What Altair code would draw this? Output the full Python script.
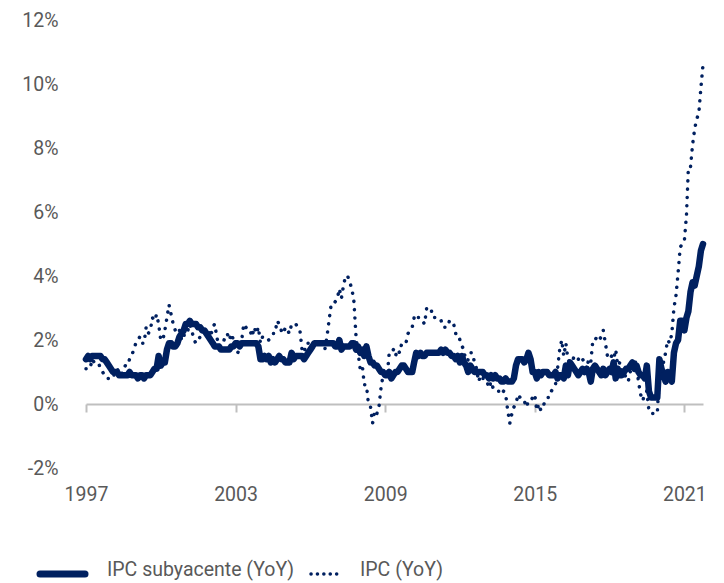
import altair as alt
import pandas as pd

# Core (subyacente) YoY %, monthly
core = [
    1.4, 1.5, 1.4, 1.5, 1.5, 1.5, 1.5, 1.5, 1.4, 1.4, 1.3, 1.2,
    1.1, 1.0, 1.0, 1.0, 0.9, 0.9, 0.9, 0.9, 0.9, 1.0, 0.9, 0.9,
    0.9, 0.8, 0.9, 0.9, 0.8, 0.9, 0.9, 0.9, 1.0, 1.1, 1.1, 1.5,
    1.2, 1.3, 1.3, 1.7, 1.9, 1.9, 1.8, 1.8, 1.9, 2.1, 2.2, 2.3,
    2.5, 2.5, 2.6, 2.5, 2.5, 2.5, 2.4, 2.4, 2.3, 2.3, 2.2, 2.1,
    2.0, 1.9, 1.8, 1.8, 1.8, 1.7, 1.7, 1.7, 1.7, 1.7, 1.8, 1.8,
    1.9, 1.9, 1.8, 1.9, 1.9, 1.9, 1.9, 1.9, 1.9, 1.9, 1.9, 1.8,
    1.4, 1.4, 1.5, 1.4, 1.5, 1.3, 1.4, 1.3, 1.4, 1.5, 1.4, 1.4,
    1.3, 1.3, 1.3, 1.6, 1.4, 1.5, 1.5, 1.5, 1.5, 1.4, 1.5, 1.6,
    1.7, 1.8, 1.9, 1.9, 1.9, 1.9, 1.9, 1.9, 1.9, 1.9, 1.9, 1.9,
    1.8, 1.8, 2.0, 1.7, 1.8, 1.8, 1.8, 1.8, 1.9, 1.9, 1.7, 1.8,
    1.6, 1.7, 1.5, 1.8, 1.5, 1.3, 1.3, 1.2, 1.2, 1.1, 1.0, 1.0,
    0.9, 0.9, 1.0, 0.8, 0.9, 1.0, 1.0, 1.1, 1.2, 1.2, 1.1, 1.0,
    1.0, 1.0, 1.3, 1.6, 1.5, 1.6, 1.5, 1.5, 1.6, 1.6, 1.6, 1.6,
    1.6, 1.6, 1.6, 1.7, 1.6, 1.7, 1.6, 1.6, 1.5, 1.5, 1.4, 1.5,
    1.3, 1.5, 1.3, 1.2, 1.0, 1.2, 1.1, 1.0, 1.0, 1.0, 1.0, 1.0,
    0.9, 0.9, 0.8, 0.9, 0.8, 0.9, 0.8, 0.8, 0.7, 0.7, 0.8, 0.7,
    0.7, 0.7, 0.8, 1.2, 1.4, 1.4, 1.4, 1.3, 1.4, 1.6, 1.4, 1.0,
    1.0, 0.8, 1.0, 0.9, 1.0, 1.0, 1.0, 0.9, 0.9, 0.9, 1.0, 0.8,
    0.9, 0.9, 0.8, 1.2, 0.9, 1.3, 1.2, 1.1, 1.0, 0.9, 1.0, 1.1,
    1.0, 1.1, 1.0, 0.7, 1.1, 1.2, 1.1, 1.0, 0.9, 1.1, 0.9, 1.0,
    1.1, 1.0, 1.3, 0.8, 1.1, 0.9, 0.9, 1.0, 1.1, 1.1, 1.2, 1.3,
    1.1, 1.2, 1.0, 0.9, 0.9, 0.8, 1.2, 0.4, 0.2, 0.2, 0.2, 0.2,
    1.4, 1.1, 0.9, 0.7, 1.0, 0.9, 0.7, 1.6, 1.9, 2.0, 2.6, 2.6,
    2.3, 2.7, 2.9, 3.5, 3.8, 3.7, 4.0, 4.3, 4.8, 5.0,
]

# Headline (IPC) YoY %, monthly
headline = [
    1.1, 1.1, 1.1, 1.4, 1.3, 1.3, 1.3, 1.1, 1.0, 0.9, 0.8, 0.8,
    0.8, 0.8, 1.0, 1.1, 1.0, 0.9, 1.1, 1.2, 1.2, 1.4, 1.5, 1.7,
    1.9, 2.0, 2.1, 1.9, 1.9, 2.4, 2.2, 2.3, 2.7, 2.6, 2.8, 2.5,
    2.0, 2.0, 2.3, 2.7, 3.1, 2.8, 2.5, 2.3, 2.2, 2.3, 2.0, 2.0,
    2.6, 2.3, 2.5, 2.3, 2.0, 1.9, 2.0, 2.1, 2.1, 2.3, 2.3, 2.3,
    2.1, 2.4, 2.5, 2.1, 1.8, 1.9, 1.9, 2.1, 2.2, 2.0, 2.2, 2.0,
    1.9, 1.6, 1.7, 2.0, 2.5, 2.4, 2.3, 2.3, 2.1, 2.4, 2.2, 2.4,
    1.9, 2.1, 2.1, 2.1, 2.0, 2.1, 2.2, 2.2, 2.6, 2.5, 2.3, 2.2,
    2.4, 2.3, 2.2, 2.5, 2.5, 2.5, 2.4, 2.3, 1.7, 1.6, 1.9, 1.9,
    1.8, 1.8, 1.9, 1.9, 1.9, 1.9, 1.8, 1.7, 2.1, 2.6, 3.1, 3.1,
    3.2, 3.3, 3.6, 3.3, 3.7, 4.0, 4.0, 3.8, 3.6, 3.2, 2.1, 1.6,
    1.1, 1.2, 0.6, 0.6, 0.0, -0.1, -0.6, -0.2, -0.3, -0.1, 0.5, 0.9,
    1.0, 0.9, 1.6, 1.6, 1.7, 1.5, 1.7, 1.6, 1.9, 1.9, 1.9, 2.2,
    2.3, 2.4, 2.7, 2.8, 2.7, 2.7, 2.6, 2.5, 3.0, 3.0, 3.0, 2.7,
    2.7, 2.7, 2.7, 2.6, 2.4, 2.4, 2.4, 2.6, 2.6, 2.5, 2.2, 2.2,
    2.0, 1.8, 1.7, 1.2, 1.4, 1.6, 1.6, 1.3, 1.1, 0.7, 0.9, 0.8,
    0.8, 0.7, 0.5, 0.7, 0.5, 0.5, 0.4, 0.4, 0.3, 0.4, 0.3, -0.2,
    -0.6, -0.3, -0.1, 0.0, 0.3, 0.2, 0.2, 0.1, -0.1, 0.1, 0.1, 0.2,
    0.3, -0.2, 0.0, -0.2, -0.1, 0.1, 0.2, 0.2, 0.4, 0.5, 0.6, 1.1,
    1.7, 2.0, 1.5, 1.9, 1.4, 1.3, 1.3, 1.5, 1.5, 1.4, 1.5, 1.4,
    1.3, 1.1, 1.4, 1.3, 2.0, 2.0, 2.1, 2.0, 2.1, 2.3, 1.9, 1.5,
    1.4, 1.5, 1.4, 1.7, 1.2, 1.3, 1.0, 1.0, 0.8, 0.7, 1.0, 1.3,
    1.4, 1.2, 0.7, 0.3, 0.1, 0.3, 0.4, -0.2, -0.3, -0.3, -0.3, -0.3,
    0.9, 0.9, 1.3, 1.6, 2.0, 1.9, 2.2, 3.0, 3.4, 4.1, 4.9, 5.0,
    5.1, 5.9, 7.4, 7.4, 8.1, 8.6, 8.9, 9.1, 9.9, 10.6,
]

series_names = ["IPC subyacente (YoY)", "IPC (YoY)"]
x_tick_years = ["1997", "2003", "2009", "2015", "2021"]
y_ticks = [-2, 0, 2, 4, 6, 8, 10, 12]

dates = pd.date_range("1997-01-01", periods=len(core), freq="MS")
df = pd.DataFrame({"date": dates, "core": core, "headline": headline})
legend_df = pd.DataFrame({"label": series_names})

NAVY = "#002060"
GREY_TXT = "#595959"
FONT = "Roboto"
FS = 19.5

x_enc = alt.X(
    "date:T",
    scale=alt.Scale(domain=[dates[0].isoformat(), dates[-1].isoformat()]),
    axis=alt.Axis(
        title=None,
        values=[pd.Timestamp(y + "-01-01").isoformat() for y in x_tick_years],
        format="%Y",
        offset=-64,
        domainColor="#bfbfbf",
        domainWidth=2,
        tickColor="#bfbfbf",
        tickWidth=2,
        tickSize=8,
        grid=False,
        labelFlush=False,
        labelPadding=73,
        labelFont=FONT,
        labelFontSize=FS,
        labelColor=GREY_TXT,
    ),
)


def y_enc(field):
    return alt.Y(
        field + ":Q",
        scale=alt.Scale(domain=[-2, 12], nice=False),
        axis=alt.Axis(
            title=None,
            values=y_ticks,
            labelExpr="datum.value + '%'",
            domain=False,
            ticks=False,
            grid=False,
            labelPadding=28,
            labelFont=FONT,
            labelFontSize=FS,
            labelColor=GREY_TXT,
        ),
    )


core_line = alt.Chart(df).mark_line(
    color=NAVY, strokeWidth=6.5, strokeCap="round", strokeJoin="round"
).encode(x=x_enc, y=y_enc("core"))

head_line = alt.Chart(df).mark_line(
    color=NAVY, strokeWidth=3.5, strokeCap="round", strokeDash=[0.1, 8.2]
).encode(x=x_enc, y=y_enc("headline"))

leg_core_line = alt.Chart(legend_df).transform_filter(
    alt.datum.label == series_names[0]
).mark_rule(color=NAVY, strokeWidth=7, strokeCap="round").encode(
    x=alt.value(-46), x2=alt.value(-1), y=alt.value(554)
)
leg_head_line = alt.Chart(legend_df).transform_filter(
    alt.datum.label == series_names[1]
).mark_rule(color=NAVY, strokeWidth=3.5, strokeCap="round", strokeDash=[0.1, 6.3]).encode(
    x=alt.value(225), x2=alt.value(257), y=alt.value(554)
)
leg_core_text = alt.Chart(legend_df).transform_filter(
    alt.datum.label == series_names[0]
).mark_text(align="left", baseline="middle", font=FONT, fontSize=FS, color=GREY_TXT).encode(
    text="label:N", x=alt.value(21), y=alt.value(550)
)
leg_head_text = alt.Chart(legend_df).transform_filter(
    alt.datum.label == series_names[1]
).mark_text(align="left", baseline="middle", font=FONT, fontSize=FS, color=GREY_TXT).encode(
    text="label:N", x=alt.value(274), y=alt.value(550)
)

chart = alt.layer(
    core_line, head_line, leg_core_line, leg_head_line, leg_core_text, leg_head_text
).properties(
    width=617,
    height=448,
    autosize=alt.AutoSizeParams(type="none"),
    padding={"left": 78, "top": 12, "right": 13, "bottom": 115},
).configure_view(stroke=None)

chart.save("out.html", embed_options={"renderer": "svg", "actions": False})
